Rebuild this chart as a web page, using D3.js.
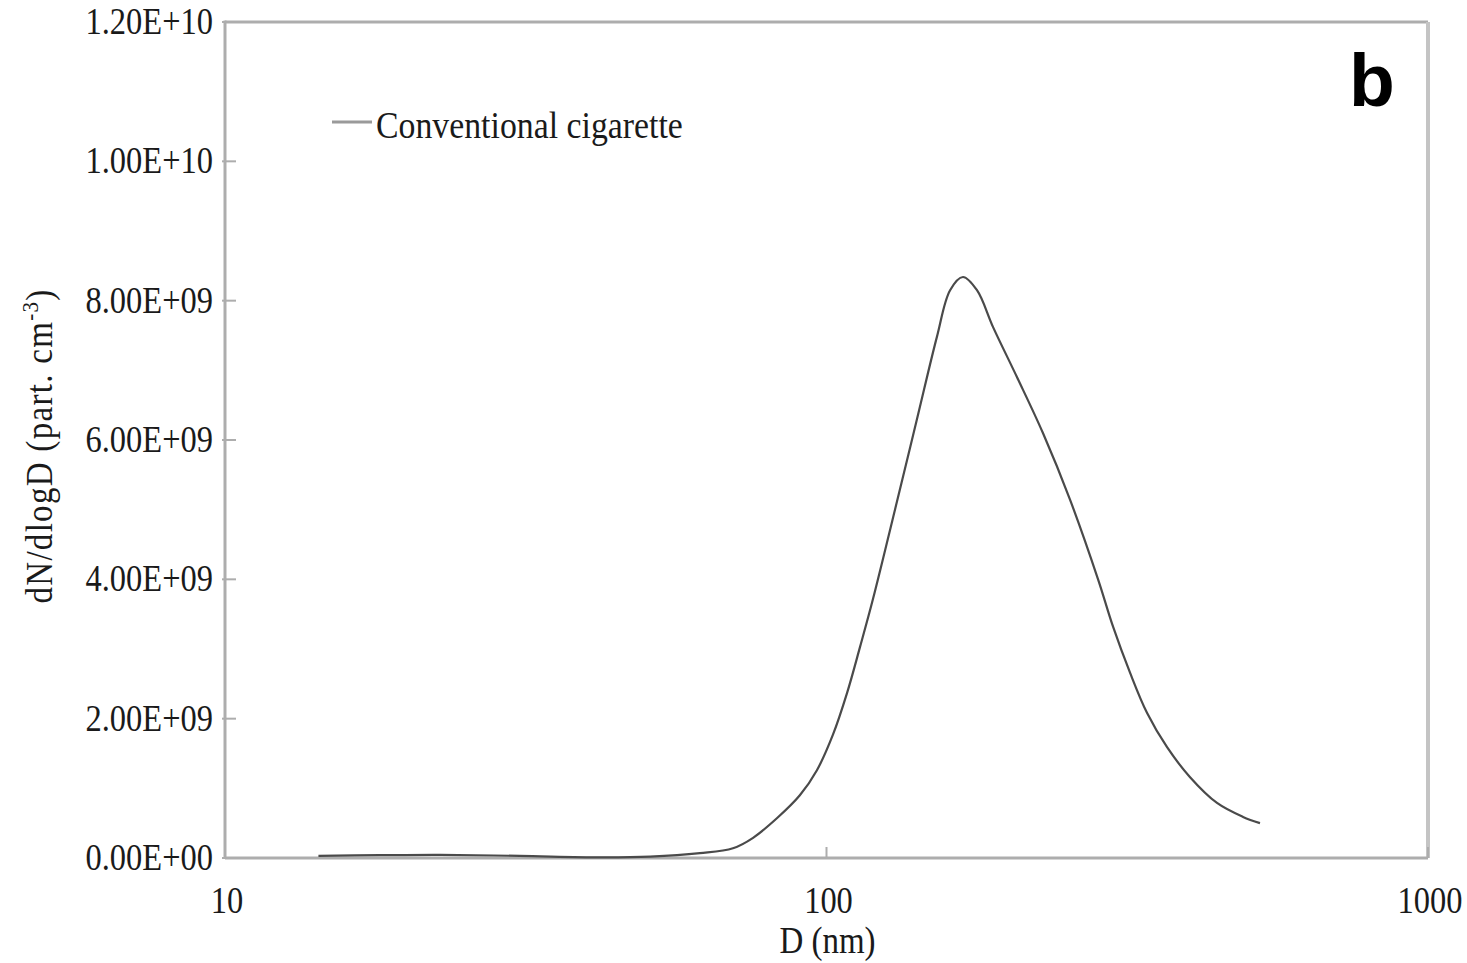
<!DOCTYPE html>
<html>
<head>
<meta charset="utf-8">
<script src="https://cdn.jsdelivr.net/npm/d3@7"></script>
<style>
  html, body { margin: 0; padding: 0; background: #fff; }
  svg { display: block; }
  text { font-family: "Liberation Serif", "Times New Roman", serif; fill: #1a1a1a; }
</style>
</head>
<body>
<div id="chart"></div>
<script>
// particle size distribution
const diameters = [14.3, 18.1, 22.8, 30.9, 42.0, 50.9, 61.6, 69.9, 75.5, 82.7, 90.3, 96.4,
  102.5, 108.2, 113.7, 119.5, 131.0, 141.4, 152.6, 160.5, 168.6, 177.9, 189.2, 207.4,
  229.0, 254.1, 282.8, 299.5, 319.6, 341.2, 368.3, 402.2, 445.9, 492.6, 525.6];
const counts = [0.03e9, 0.04e9, 0.045e9, 0.03e9, 0.01e9, 0.02e9, 0.07e9, 0.14e9, 0.29e9,
  0.57e9, 0.90e9, 1.26e9, 1.77e9, 2.37e9, 3.03e9, 3.72e9, 5.12e9, 6.30e9, 7.48e9, 8.15e9,
  8.34e9, 8.15e9, 7.62e9, 6.90e9, 6.10e9, 5.14e9, 4.00e9, 3.32e9, 2.66e9, 2.08e9, 1.59e9,
  1.16e9, 0.79e9, 0.59e9, 0.50e9];

const yTicks = [0, 2e9, 4e9, 6e9, 8e9, 1e10, 1.2e10];
const yTickLabels = ["0.00E+00", "2.00E+09", "4.00E+09", "6.00E+09", "8.00E+09", "1.00E+10", "1.20E+10"];
const xTicks = [10, 100, 1000];
const xTickLabels = ["10", "100", "1000"];
const seriesName = "Conventional cigarette";

const W = 1467, H = 963;
const m = { left: 225, top: 22, right: 39, bottom: 105 };
const iw = W - m.left - m.right, ih = H - m.top - m.bottom;
const stretch = 1.14; // the picture's text is a little tall

const x = d3.scaleLog().domain([10, 1000]).range([0, iw]);
const y = d3.scaleLinear().domain([0, 1.2e10]).range([ih, 0]);

const svg = d3.select("#chart").append("svg").attr("width", W).attr("height", H);
const g = svg.append("g").attr("transform", `translate(${m.left},${m.top})`);

function label(parent, tx, ty, str, size, anchor) {
  return parent.append("text")
    .attr("transform", `translate(${tx},${ty}) scale(1,${stretch})`)
    .attr("text-anchor", anchor || "middle")
    .style("font-size", size + "px")
    .text(str);
}

// frame
g.append("line").attr("x1", 0).attr("x2", iw).attr("y1", 0).attr("y2", 0)
  .style("stroke", "#adadad").style("stroke-width", 3);
g.append("line").attr("x1", iw).attr("x2", iw).attr("y1", 0).attr("y2", ih)
  .style("stroke", "#c4c4c4").style("stroke-width", 4);
g.append("line").attr("x1", 0).attr("x2", 0).attr("y1", -1.5).attr("y2", ih)
  .style("stroke", "#adadad").style("stroke-width", 3);
g.append("line").attr("x1", 0).attr("x2", iw).attr("y1", ih).attr("y2", ih)
  .style("stroke", "#adadad").style("stroke-width", 3);

// y ticks (inward) and labels
g.selectAll("line.ytick").data(yTicks).enter().append("line").attr("class", "ytick")
  .attr("x1", -3).attr("x2", 11)
  .attr("y1", d => y(d)).attr("y2", d => y(d))
  .style("stroke", "#adadad").style("stroke-width", 2);
yTicks.forEach((d, i) => label(g, -12, y(d) + 12, yTickLabels[i], 32.5, "end"));

// x ticks and labels
g.selectAll("line.xtick").data(xTicks).enter().append("line").attr("class", "xtick")
  .attr("x1", d => x(d)).attr("x2", d => x(d))
  .attr("y1", ih - 11).attr("y2", ih)
  .style("stroke", "#adadad").style("stroke-width", 2);
xTicks.forEach((d, i) => label(g, x(d) + 2, ih + 55, xTickLabels[i], 32.5));

// axis titles
label(g, x(100) + 1, ih + 95, "D (nm)", 33);
const yt = g.append("text")
  .attr("transform", `translate(-173,${446 - m.top}) rotate(-90) scale(1,${stretch})`)
  .attr("text-anchor", "middle")
  .style("font-size", "33px")
  .style("letter-spacing", "1.3px");
yt.append("tspan").text("dN/dlogD (part. cm");
yt.append("tspan").attr("dy", -12).style("font-size", "21px").text("-3");
yt.append("tspan").attr("dy", 12).text(")");

// series
const pts = diameters.map((d, i) => [d, counts[i]]);
g.append("path").datum(pts)
  .attr("d", d3.line().x(d => x(d[0])).y(d => y(d[1])).curve(d3.curveCatmullRom.alpha(0.5)))
  .style("fill", "none").style("stroke", "#4a4a4a").style("stroke-width", 2.2);

// legend
g.append("line").attr("x1", 332 - m.left).attr("x2", 372 - m.left)
  .attr("y1", 122 - m.top).attr("y2", 122 - m.top)
  .style("stroke", "#9a9a9a").style("stroke-width", 3);
label(g, 376 - m.left, 138 - m.top, seriesName, 33.8, "start");

// panel letter
svg.append("text")
  .attr("x", 1349).attr("y", 106)
  .style("font-family", "'Liberation Sans', Arial, sans-serif")
  .style("font-weight", "bold").style("font-size", "75px").style("fill", "#000")
  .text("b");
</script>
</body>
</html>
